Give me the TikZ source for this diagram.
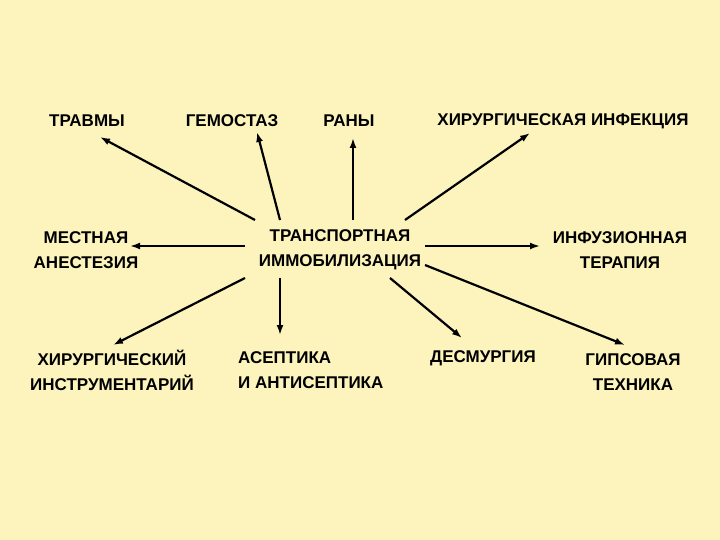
\documentclass[tikz,border=0pt]{standalone}
\usepackage{fontspec}
\setmainfont{Liberation Sans}
\usetikzlibrary{arrows.meta}
\definecolor{bgc}{RGB}{252,244,188}
\begin{document}
\begin{tikzpicture}[x=1pt,y=-1pt,
 lbl/.style={font=\fontsize{17}{25}\selectfont\bfseries, inner sep=0pt},
 arr/.style={-{Latex[length=10pt,width=7pt]}, line width=2.2pt}]
\fill[bgc] (0,0) rectangle (720,540);
\useasboundingbox (0,0) rectangle (720,540);
\node[lbl] (trav) at (87,121) {ТРАВМЫ};
\node[lbl] (gem) at (232,121) {ГЕМОСТАЗ};
\node[lbl] (ran) at (349,121) {РАНЫ};
\node[lbl] (inf) at (563,121) {ХИРУРГИЧЕСКАЯ ИНФЕКЦИЯ};
\node[lbl,align=center] (mest) at (86,250) {МЕСТНАЯ\\АНЕСТЕЗИЯ};
\node[lbl,align=center] (tr) at (340,250) {ТРАНСПОРТНАЯ\\ИММОБИЛИЗАЦИЯ};
\node[lbl,align=center] (infz) at (620,250) {ИНФУЗИОННАЯ\\ТЕРАПИЯ};
\node[lbl,align=center] (instr) at (112,370) {ХИРУРГИЧЕСКИЙ\\ИНСТРУМЕНТАРИЙ};
\node[lbl,align=left,anchor=west] (asep) at (238,370) {АСЕПТИКА\\И АНТИСЕПТИКА};
\node[lbl] (desm) at (483,358) {ДЕСМУРГИЯ};
\node[lbl,align=center] (gips) at (633,372) {ГИПСОВАЯ\\ТЕХНИКА};
\coordinate (t1) at (255,220); \coordinate (h1) at (100,137);
\coordinate (t2) at (280,220); \coordinate (h2) at (257,132);
\coordinate (t3) at (353,220); \coordinate (h3) at (353,138);
\coordinate (t4) at (405,220); \coordinate (h4) at (530,133);
\coordinate (t5) at (245,246); \coordinate (h5) at (130,246);
\coordinate (t6) at (425,246); \coordinate (h6) at (540,246);
\coordinate (t7) at (245,278); \coordinate (h7) at (113,345);
\coordinate (t8) at (280,278); \coordinate (h8) at (280,335);
\coordinate (t9) at (390,278); \coordinate (h9) at (462,338);
\coordinate (t10) at (425,265); \coordinate (h10) at (625,345);
\foreach \i in {1,...,10} \draw[arr] (t\i) -- (h\i);
\end{tikzpicture}
\end{document}
